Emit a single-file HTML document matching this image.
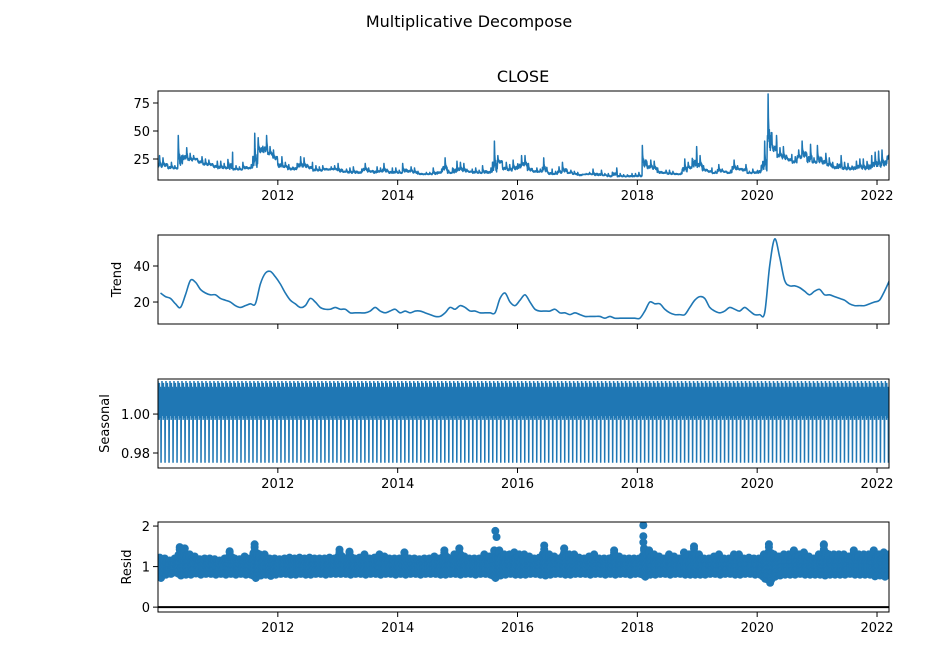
<!DOCTYPE html>
<html><head><meta charset="utf-8">
<style>
html,body{margin:0;padding:0;background:#fff;}
svg{display:block;font-family:"DejaVu Sans","Liberation Sans",sans-serif;}
</style></head>
<body>
<svg id="fig" width="939" height="663" viewBox="0 0 939 663" xmlns="http://www.w3.org/2000/svg">
<rect width="939" height="663" fill="#fff"/>
<text x="469" y="27" text-anchor="middle" font-size="16" fill="#000">Multiplicative Decompose</text>
<text x="523" y="82" text-anchor="middle" font-size="16" fill="#000">CLOSE</text>
</svg>
<script>
// ---- data ----
const xTickYears = [2012, 2014, 2016, 2018, 2020, 2022];
const xTickLabels = ["2012", "2014", "2016", "2018", "2020", "2022"];
const startYear = 2010.0, endYear = 2022.2;

const trend = [
25,23,22,19,17,24,32,31,27,25,24,24,
22,21,20,18,17,18,19,19,30,36,37,34,
30,25,21,19,17,18,22,20,17,16,16,17,
16,16,14,14,14,14,15,17,15,14,15,16,
14,15,14,15,15,14,13,12,12,14,17,16,
18,17,15,15,14,14,14,14,22,25,20,18,
21,24,20,16,15,15,15,16,14,14,13,14,
13,12,12,12,12,11,12,11,11,11,11,11,
11,15,20,19,19,16,14,13,13,13,17,21,
23,22,17,15,14,15,17,16,15,17,15,13,
13,14,40,55,45,32,29,29,28,26,24,26,
27,24,24,23,22,21,19,18,18,18,19,20,
21,26,32];

const closeHi = [
28,26,22,19,46,35,30,28,27,25,24,23,
23,21,31,19,18,22,20,48,44,46,36,33,
27,22,20,21,27,26,22,19,18,19,18,19,
21,16,17,18,16,21,17,18,17,21,17,17,
15,21,18,17,14,13,13,17,16,26,15,23,
22,21,16,17,15,19,17,41,28,22,20,24,
28,28,21,17,16,26,16,14,18,22,15,14,
13,12,13,16,15,12,12,17,12,11,12,12,
13,37,24,23,17,15,15,14,13,25,22,36,
28,19,17,14,20,16,15,24,19,20,14,16,
19,41,83,46,35,36,29,27,33,41,38,26,
37,30,26,22,28,22,21,23,25,25,28,31,
32,33,36];
const closeLo = [
17,18,16,16,18,24,23,24,21,19,19,17,
16,16,15,15,15,16,16,16,30,30,28,24,
17,17,15,15,17,17,16,14,14,15,15,15,
13,13,12,12,12,14,13,12,13,13,12,12,
12,13,13,12,11,11,11,11,12,14,12,12,
14,13,13,12,12,12,12,12,21,15,14,15,
16,18,14,13,13,13,11,11,12,13,12,11,
10,11,11,10,10,10,9,10,9,9,9,9,
9,17,16,15,12,12,11,11,11,13,16,17,
17,14,13,12,13,13,12,15,15,14,12,12,
12,13,30,31,26,24,23,21,25,26,21,21,
21,20,18,16,16,15,15,15,16,15,15,17,
17,18,24];

const seasonalPattern = [1.017,0.999,1.015,1.003,1.012,0.997,1.016,1.001,1.010,0.998,1.014,1.004,1.009,0.975,0.999,1.013,1.006];
const seasonalPeriodYears = 0.0667;

const resHi = [
1.22,1.2,1.15,1.2,1.48,1.45,1.3,1.25,1.18,1.2,1.2,1.18,
1.15,1.2,1.38,1.2,1.18,1.25,1.2,1.55,1.3,1.3,1.2,1.2,
1.18,1.2,1.22,1.2,1.22,1.2,1.22,1.2,1.2,1.2,1.22,1.2,
1.42,1.2,1.37,1.2,1.22,1.3,1.2,1.22,1.3,1.25,1.2,1.2,
1.2,1.35,1.2,1.2,1.18,1.2,1.2,1.25,1.2,1.4,1.2,1.3,
1.45,1.25,1.2,1.2,1.2,1.3,1.25,1.4,1.4,1.3,1.3,1.35,
1.3,1.3,1.25,1.2,1.22,1.52,1.3,1.25,1.2,1.45,1.3,1.3,
1.22,1.2,1.25,1.3,1.2,1.2,1.2,1.4,1.25,1.2,1.2,1.2,
1.2,1.45,1.4,1.3,1.25,1.2,1.3,1.25,1.2,1.35,1.3,1.5,
1.3,1.2,1.2,1.25,1.3,1.2,1.2,1.3,1.3,1.2,1.22,1.2,
1.2,1.3,1.55,1.3,1.25,1.3,1.3,1.4,1.3,1.35,1.25,1.2,
1.3,1.55,1.3,1.3,1.3,1.3,1.25,1.4,1.3,1.3,1.3,1.4,
1.3,1.35,1.3];
const resLo = [
0.72,0.8,0.82,0.85,0.78,0.8,0.8,0.83,0.8,0.82,0.82,0.8,
0.82,0.8,0.82,0.8,0.82,0.8,0.8,0.72,0.78,0.8,0.77,0.8,
0.82,0.82,0.8,0.8,0.82,0.8,0.8,0.82,0.82,0.8,0.82,0.82,
0.82,0.82,0.8,0.82,0.82,0.8,0.82,0.82,0.8,0.82,0.82,0.8,
0.82,0.8,0.82,0.82,0.8,0.82,0.82,0.82,0.8,0.8,0.82,0.82,
0.8,0.82,0.82,0.8,0.82,0.82,0.8,0.72,0.78,0.8,0.82,0.8,
0.8,0.8,0.82,0.82,0.8,0.78,0.8,0.82,0.82,0.8,0.8,0.82,
0.82,0.82,0.8,0.82,0.82,0.8,0.82,0.8,0.82,0.82,0.8,0.82,
0.82,0.75,0.8,0.8,0.82,0.82,0.8,0.82,0.82,0.8,0.8,0.8,
0.8,0.8,0.82,0.82,0.8,0.82,0.82,0.8,0.8,0.82,0.82,0.8,
0.8,0.7,0.6,0.75,0.78,0.8,0.8,0.8,0.82,0.8,0.8,0.8,
0.8,0.78,0.8,0.8,0.8,0.8,0.82,0.8,0.8,0.8,0.8,0.76,
0.78,0.75,0.78];
const residOutlierX = [2015.63, 2015.65, 2018.1, 2018.1, 2018.1];
const residOutlierY = [1.88, 1.73, 2.02, 1.75, 1.6];

const panels = [
  {name:"close", top:91, bottom:180, ymin:6.25, ymax:85.7, ticks:[25,50,75], labels:["25","50","75"], label:null, xlabels:true},
  {name:"trend", top:235, bottom:324, ymin:7.8, ymax:57.2, ticks:[20,40], labels:["20","40"], label:"Trend", xlabels:false},
  {name:"seasonal", top:379, bottom:468, ymin:0.9723, ymax:1.018, ticks:[0.98,1.00], labels:["0.98","1.00"], label:"Seasonal", xlabels:true},
  {name:"resid", top:522, bottom:612, ymin:-0.12, ymax:2.1, ticks:[0,1,2], labels:["0","1","2"], label:"Resid", xlabels:true}
];
const L = 158, R = 889, BLUE = "#1f77b4";
const NS = "http://www.w3.org/2000/svg";
const svg = document.getElementById("fig");
function xS(yr){ return L + (yr - startYear) / (endYear - startYear) * (R - L); }
function yS(p, v){ return p.bottom - (v - p.ymin) / (p.ymax - p.ymin) * (p.bottom - p.top); }
function mk(tag, attrs, parent){ const e = document.createElementNS(NS, tag); for (const k in attrs) e.setAttribute(k, attrs[k]); (parent||svg).appendChild(e); return e; }
function monthYear(i){ return startYear + i / 12; }
// within-month wiggle shape (style only): fraction between monthly low and high
const wiggle = [0.15,0.35,0.1,0.3,0.2,1.0,0.6,0.45,0.25,0.4,0.1,0.3,0.05,0.25,0.15,0.35];

function smoothPath(pts){
  let d = "M" + pts[0][0] + "," + pts[0][1];
  for (let i = 0; i < pts.length - 1; i++) {
    const p0 = pts[Math.max(0,i-1)], p1 = pts[i], p2 = pts[i+1], p3 = pts[Math.min(pts.length-1,i+2)];
    const c1x = p1[0] + (p2[0]-p0[0])/6, c1y = p1[1] + (p2[1]-p0[1])/6;
    const c2x = p2[0] - (p3[0]-p1[0])/6, c2y = p2[1] - (p3[1]-p1[1])/6;
    d += " C" + c1x.toFixed(2) + "," + c1y.toFixed(2) + " " + c2x.toFixed(2) + "," + c2y.toFixed(2) + " " + p2[0].toFixed(2) + "," + p2[1].toFixed(2);
  }
  return d;
}

panels.forEach(p => {
  const g = mk("g", {});
  
  
  const clipId = "clip-" + p.name;
  const cp = mk("clipPath", {id: clipId}, g);
  mk("rect", {x:L, y:p.top, width:R-L, height:p.bottom-p.top}, cp);
  const plot = mk("g", {"clip-path": "url(#" + clipId + ")"}, g);
  
  

  if (p.name === "close") {
    let pts = [];
    const n = wiggle.length;
    for (let i = 0; i < closeHi.length; i++) {
      for (let k = 0; k < n; k++) {
        const v = closeLo[i] + wiggle[(k + i * 5) % n] * (closeHi[i] - closeLo[i]);
        pts.push(xS(monthYear(i + k / n)).toFixed(2) + "," + yS(p, v).toFixed(2));
      }
    }
    const pl = mk("polyline", {points: pts.join(" "), fill:"none", stroke:BLUE, "stroke-width":1.5, "stroke-linejoin":"round"}, plot);
    
    
  } else if (p.name === "trend") {
    const pts = trend.map((v, i) => [xS(monthYear(i + 0.5)), yS(p, v)]);
    const pl = mk("path", {d: smoothPath(pts), fill:"none", stroke:BLUE, "stroke-width":1.6, "stroke-linejoin":"round"}, plot);
    
    
  } else if (p.name === "seasonal") {
    const pts = [];
    const n = seasonalPattern.length;
    const step = seasonalPeriodYears / n;
    let k = 0;
    for (let t = startYear; t <= endYear; t += step, k++) {
      pts.push(xS(t).toFixed(2) + "," + yS(p, seasonalPattern[k % n]).toFixed(2));
    }
    const pl = mk("polyline", {points: pts.join(" "), fill:"none", stroke:BLUE, "stroke-width":1.5}, plot);
    
    
  } else {
    mk("line", {x1:L, x2:R, y1:yS(p,0), y2:yS(p,0), stroke:"#000", "stroke-width":2}, plot);
    const dots = mk("g", {fill:BLUE}, plot);
    
    
    for (let i = 0; i < resHi.length; i++) {
      for (let s = 0; s < 4; s++) {
        const t = monthYear(i + s / 4 + 0.1);
        const top = s === 1 ? resHi[i] : 1 + (resHi[i] - 1) * 0.6;
        const bot = s === 2 ? resLo[i] : 1 - (1 - resLo[i]) * 0.8;
        const vals = [bot, top];
        for (let v = bot + 0.1; v < top; v += 0.1) vals.push(v);
        vals.forEach(v => mk("circle", {cx:xS(t), cy:yS(p, v), r:4}, dots));
      }
    }
    residOutlierX.forEach((x, j) => mk("circle", {cx:xS(x), cy:yS(p, residOutlierY[j]), r:4}, dots));
  }

  mk("rect", {x:L, y:p.top, width:R-L, height:p.bottom-p.top, fill:"none", stroke:"#000", "stroke-width":1}, g);
  xTickYears.forEach((yr, j) => {
    const x = xS(yr);
    mk("line", {x1:x, x2:x, y1:p.bottom, y2:p.bottom+5, stroke:"#000", "stroke-width":1}, g);
    if (p.xlabels) {
      const t = mk("text", {x:x, y:p.bottom+20, "text-anchor":"middle", "font-size":13, fill:"#000"}, g);
      t.textContent = xTickLabels[j];
      
      
    }
  });
  p.ticks.forEach((v, j) => {
    const y = yS(p, v);
    mk("line", {x1:L-5, x2:L, y1:y, y2:y, stroke:"#000", "stroke-width":1}, g);
    const t = mk("text", {x:L-8, y:y+5, "text-anchor":"end", "font-size":13, fill:"#000"}, g);
    t.textContent = p.labels[j];
    
    
  });
  if (p.label) {
    const cy = (p.top + p.bottom) / 2;
    const lx = p.name === "trend" ? 121 : (p.name === "resid" ? 131 : 109);
    const t = mk("text", {x:lx, y:cy, "text-anchor":"middle", "font-size":13, fill:"#000", transform:"rotate(-90 " + lx + " " + cy + ")"}, g);
    t.textContent = p.label;
    
    
  }
});
</script>
</body></html>
